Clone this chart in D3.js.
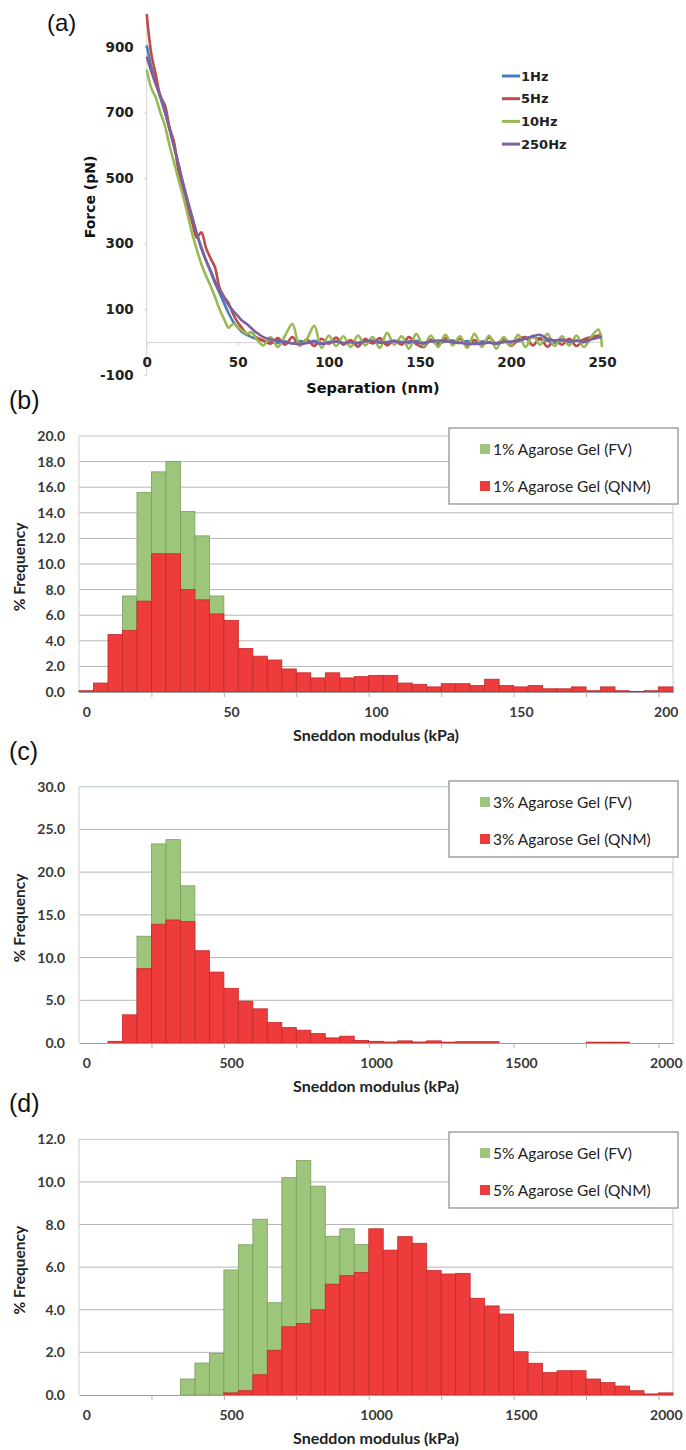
<!DOCTYPE html>
<html>
<head>
<meta charset="utf-8">
<script src="https://cdn.jsdelivr.net/npm/d3@7"></script>
<style>
  body { margin: 0; background: #fff; }
</style>
</head>
<body>
<svg id="fig" width="686" height="1450"></svg>
<script>
// ---------- panel (a): force curves ----------
const sepHead = [0, 2.5, 5, 7.5, 10, 12.5, 15, 17.5, 20, 22.5, 25, 27.5, 30, 32.5, 35, 37.5, 40, 42.5, 45, 47.5, 50, 52.5, 55, 57.5, 60];
const sepTail = [64, 68, 72, 76, 80, 84, 88, 92, 96, 100, 104, 108, 112, 116, 120, 124, 128, 132, 136, 140,
  144, 148, 152, 156, 160, 164, 168, 172, 176, 180, 184, 188, 192, 196, 200, 204, 208, 212, 216, 220,
  224, 228, 232, 236, 240, 244, 248, 250];
const separation = sepHead.concat(sepTail);

const force1Hz = [905, 840, 790, 745, 700, 650, 598, 540, 485, 430, 380, 330, 290, 250, 215, 180, 150, 118, 88, 62, 45, 30, 22, 15, 10,
  4, 0, -3, 2, -4, 3, -2, 4, -3, 0, 3, -4, 2, -2, 5, -3, 2, -4, 3, 0,
  -3, 4, -2, 3, -4, 2, 5, -2, 3, -4, 2, 0, -3, 4, -2, 3, 10, 15, 8, 4,
  -2, 5, 0, 4, 6, 10, 15, 18];
const force5Hz = [1000, 880, 815, 750, 722, 655, 610, 520, 470, 412, 365, 318, 335, 288, 256, 228, 165, 138, 118, 85, 60, 42, 25, 30, 15,
  5, -5, 12, -8, 15, -10, 8, -12, 10, -5, 14, -8, 6, -14, 10, -4, 12, -10, 5, -8,
  15, -6, -15, 8, -10, 12, -4, 10, -12, 6, -8, 14, -6, 10, -12, 8, 15, -10, 12, -14,
  5, -8, 10, -12, 8, 15, 20, 22];
const force10Hz = [830, 775, 745, 700, 660, 600, 548, 495, 445, 388, 330, 282, 238, 203, 172, 138, 100, 70, 44, 56, 45, 35, 25, 30, 12,
  -10, 15, -15, 20, 55, -10, 10, 50, -18, 20, -12, 18, -15, 20, -10, 15, -18, 28, -8, 18,
  -20, 25, -12, 20, -15, 22, -10, 18, -18, 25, -15, 20, -20, 15, -10, 22, -15, 20, -8, 25,
  -12, 18, -10, 20, -15, 15, 38, -15];
const force250Hz = [870, 825, 785, 750, 705, 650, 595, 540, 480, 430, 380, 330, 285, 250, 220, 185, 157, 135, 112, 95, 80, 65, 55, 42, 30,
  15, 8, 4, 0, -4, -6, -3, 0, -5, -2, 2, -3, 0, -4, 2, 4, -2, 0, 3, -2,
  2, 0, -4, 2, 5, 3, 0, -3, -5, -6, -4, -2, -5, 0, 2, 4, 12, 18, 22, 10,
  5, 8, 2, 5, 0, 8, 14, 16];

const curveNames = ["1Hz", "5Hz", "10Hz", "250Hz"];
const curveColors = ["#4a7ebb", "#be4b48", "#98b954", "#7d60a0"];
const forceTicks = [-100, 100, 300, 500, 700, 900];
const sepTicks = [0, 50, 100, 150, 200, 250];

// ---------- panels (b)-(d): histograms ----------
const bins1 = [0, 5, 10, 15, 20, 25, 30, 35, 40, 45, 50, 55, 60, 65, 70, 75, 80, 85, 90, 95, 100,
  105, 110, 115, 120, 125, 130, 135, 140, 145, 150, 155, 160, 165, 170, 175, 180, 185, 190, 195, 200];
const fv1 = [0, 0, 0, 7.5, 15.6, 17.2, 18.0, 14.1, 12.2, 7.5, 0, 0, 0, 0, 0, 0, 0, 0, 0, 0,
  0, 0, 0, 0, 0, 0, 0, 0, 0, 0, 0, 0, 0, 0, 0, 0, 0, 0, 0, 0, 0];
const qnm1 = [0.1, 0.7, 4.5, 4.8, 7.1, 10.8, 10.8, 8.0, 7.2, 6.1, 5.6, 3.4, 2.8, 2.5, 1.8, 1.5, 1.1, 1.5, 1.1, 1.2,
  1.3, 1.3, 0.7, 0.6, 0.4, 0.65, 0.65, 0.5, 1.0, 0.5, 0.4, 0.5, 0.25, 0.25, 0.4, 0.1, 0.4, 0.1, 0.05, 0.1, 0.4];

const bins35 = [0, 50, 100, 150, 200, 250, 300, 350, 400, 450, 500, 550, 600, 650, 700, 750, 800, 850, 900, 950, 1000,
  1050, 1100, 1150, 1200, 1250, 1300, 1350, 1400, 1450, 1500, 1550, 1600, 1650, 1700, 1750, 1800, 1850, 1900, 1950, 2000];
const fv3 = [0, 0, 0, 0, 12.5, 23.3, 23.8, 18.4, 0, 0, 0, 0, 0, 0, 0, 0, 0, 0, 0, 0,
  0, 0, 0, 0, 0, 0, 0, 0, 0, 0, 0, 0, 0, 0, 0, 0, 0, 0, 0, 0, 0];
const qnm3 = [0, 0, 0.2, 3.3, 8.7, 13.9, 14.4, 14.2, 10.8, 8.3, 6.4, 4.9, 4.0, 2.4, 1.8, 1.5, 1.1, 0.6, 0.8, 0.3,
  0.2, 0.12, 0.25, 0.12, 0.25, 0.1, 0.15, 0.15, 0.15, 0, 0, 0, 0, 0, 0, 0.1, 0.1, 0.1, 0, 0, 0];
const fv5 = [0, 0, 0, 0, 0, 0, 0, 0.75, 1.5, 1.95, 5.87, 7.05, 8.25, 4.33, 10.2, 11.0, 9.8, 7.45, 7.8, 7.07,
  0, 0, 0, 0, 0, 0, 0, 0, 0, 0, 0, 0, 0, 0, 0, 0, 0, 0, 0, 0, 0];
const qnm5 = [0, 0, 0, 0, 0, 0, 0, 0, 0, 0, 0.1, 0.2, 0.95, 2.1, 3.2, 3.35, 4.0, 5.2, 5.6, 5.75,
  7.8, 6.8, 7.43, 7.12, 5.84, 5.68, 5.71, 4.54, 4.18, 3.8, 2.03, 1.49, 1.05, 1.14, 1.14, 0.75, 0.58, 0.42, 0.2, 0.05, 0.1];

const xLabels1 = [0, 50, 100, 150, 200];
const xLabels35 = [0, 500, 1000, 1500, 2000];
const yTicks1 = [0, 2, 4, 6, 8, 10, 12, 14, 16, 18, 20];
const yTicks3 = [0, 5, 10, 15, 20, 25, 30];
const yTicks5 = [0, 2, 4, 6, 8, 10, 12];

const svg = d3.select("#fig");
const verdana = "'DejaVu Sans', Verdana, sans-serif";
const calibri = "Lato, 'Open Sans', sans-serif";

// ---------- draw (a) ----------
function drawForcePanel() {
  const x = d3.scaleLinear().domain([0, 250]).range([146.7, 602]);
  const y = d3.scaleLinear().domain([-100, 1000]).range([374.9, 14]);
  const g = svg.append("g");

  const yAxis = g.append("g").attr("transform", "translate(146.7,0)")
    .call(d3.axisLeft(y).tickValues(forceTicks).tickFormat(d => String(d)).tickSize(3).tickPadding(10));
  yAxis.select(".domain").attr("stroke", "#d4d4d4").attr("d", `M0,${y(1000)}V${y(-100)}`);
  yAxis.selectAll(".tick line").attr("stroke", "#d4d4d4");
  yAxis.selectAll("text").attr("font-family", verdana).attr("font-weight", "bold")
    .attr("font-size", 13.5).attr("fill", "#222");

  const xAxis = g.append("g").attr("transform", `translate(0,${y(0)})`)
    .call(d3.axisBottom(x).tickValues(sepTicks).tickFormat(d => String(d)).tickSize(4).tickPadding(11));
  xAxis.select(".domain").attr("stroke", "#d4d4d4");
  xAxis.selectAll(".tick line").attr("stroke", "#d4d4d4");
  xAxis.selectAll("text").attr("font-family", verdana).attr("font-weight", "bold")
    .attr("font-size", 13.5).attr("fill", "#222");

  const series = [force1Hz, force5Hz, force10Hz, force250Hz];
  const line = d3.line().x((d, i) => x(separation[i])).y(d => y(d)).curve(d3.curveCatmullRom.alpha(0.5));
  g.selectAll(".curve").data(series).join("path")
    .attr("class", "curve")
    .attr("d", d => line(d))
    .attr("fill", "none")
    .attr("stroke", (d, i) => curveColors[i])
    .attr("stroke-width", 2.6)
    .attr("stroke-linejoin", "round");

  const leg = g.selectAll(".leg").data(curveNames).join("g")
    .attr("transform", (d, i) => `translate(502,${76 + i * 22.7})`);
  leg.append("line").attr("x1", 0).attr("x2", 18).attr("stroke", (d, i) => curveColors[i]).attr("stroke-width", 3);
  leg.append("text").attr("x", 19).attr("dy", "0.35em").text(d => d)
    .attr("font-family", verdana).attr("font-weight", "bold").attr("font-size", 13).attr("fill", "#222");

  g.append("text").attr("transform", "translate(90,197) rotate(-90)").attr("text-anchor", "middle")
    .attr("dy", "0.35em").text("Force (pN)")
    .attr("font-family", verdana).attr("font-weight", "bold").attr("font-size", 14).attr("fill", "#111");
  g.append("text").attr("x", 373).attr("y", 393).attr("text-anchor", "middle").text("Separation (nm)")
    .attr("font-family", verdana).attr("font-weight", "bold").attr("font-size", 14.5).attr("fill", "#111");
}

// ---------- draw (b)-(d) ----------
function drawHistogram(cfg) {
  const step = cfg.bins[1] - cfg.bins[0];
  const n = cfg.bins.length;
  const left = 79, right = 673;
  const x = d3.scaleLinear().domain([cfg.bins[0] - step / 2, cfg.bins[n - 1] + step / 2]).range([left, right]);
  const y = d3.scaleLinear().domain([0, cfg.yTicks[cfg.yTicks.length - 1]]).range([cfg.bottom, cfg.top]);
  const g = svg.append("g");

  // horizontal gridlines
  g.selectAll(".grid").data(cfg.yTicks.filter(t => t > 0)).join("line")
    .attr("x1", left).attr("x2", right)
    .attr("y1", d => y(d)).attr("y2", d => y(d))
    .attr("stroke", (d, i, a) => i === a.length - 1 ? "#b9c6d8" : "#b5b5b5").attr("stroke-width", 1);
  // plot border left / right
  g.append("line").attr("x1", left).attr("x2", left).attr("y1", cfg.top).attr("y2", cfg.bottom).attr("stroke", "#cfcfcf");
  g.append("line").attr("x1", right).attr("x2", right).attr("y1", cfg.top).attr("y2", cfg.bottom).attr("stroke", "#c3cddc");

  const bw = x(step) - x(0);
  const fvBars = cfg.bins.map((b, i) => ({ b: b, v: cfg.fv[i] })).filter(d => d.v > 0);
  const qnmBars = cfg.bins.map((b, i) => ({ b: b, v: cfg.qnm[i] })).filter(d => d.v > 0);

  g.selectAll(".fv").data(fvBars).join("rect")
    .attr("x", d => x(d.b - step / 2)).attr("width", bw)
    .attr("y", d => y(d.v)).attr("height", d => cfg.bottom - y(d.v))
    .attr("fill", "#9dc57b").attr("stroke", "#7a9f5c").attr("stroke-width", 0.8);
  g.selectAll(".qnm").data(qnmBars).join("rect")
    .attr("x", d => x(d.b - step / 2)).attr("width", bw)
    .attr("y", d => y(d.v)).attr("height", d => cfg.bottom - y(d.v))
    .attr("fill", "#ee3b3c").attr("stroke", "#c32a2c").attr("stroke-width", 0.8);

  // y axis labels
  const yAxis = g.append("g").attr("transform", `translate(${left},0)`)
    .call(d3.axisLeft(y).tickValues(cfg.yTicks).tickFormat(d3.format(".1f")).tickSize(0).tickPadding(14));
  yAxis.select(".domain").remove();
  yAxis.selectAll("text").attr("font-family", calibri).attr("font-weight", "bold")
    .attr("font-size", 14).attr("fill", "#3a3a3a");

  // bottom axis line and tick marks at every fifth bin boundary
  const boundaries = cfg.bins.filter((b, i) => i > 0 && i % 5 === 0).map(b => b - step / 2);
  const tickAxis = g.append("g").attr("transform", `translate(0,${cfg.bottom})`)
    .call(d3.axisBottom(x).tickValues(boundaries).tickFormat("").tickSize(5).tickSizeOuter(0));
  tickAxis.select(".domain").attr("stroke", "#9d9d9d");
  tickAxis.selectAll(".tick line").attr("stroke", "#b0b0b0");

  const labAxis = g.append("g").attr("transform", `translate(0,${cfg.bottom})`)
    .call(d3.axisBottom(x).tickValues(cfg.xLabels).tickFormat(d => String(d)).tickSize(0).tickPadding(15));
  labAxis.select(".domain").remove();
  labAxis.selectAll("text").attr("font-family", calibri).attr("font-weight", "bold")
    .attr("font-size", 14).attr("fill", "#3a3a3a");

  // axis titles
  g.append("text").attr("transform", `translate(20,${(cfg.top + cfg.bottom) / 2 + 3}) rotate(-90)`)
    .attr("text-anchor", "middle").attr("dy", "0.35em").text("% Frequency")
    .attr("font-family", calibri).attr("font-weight", "bold").attr("font-size", 15.5).attr("fill", "#222");
  g.append("text").attr("x", 376).attr("y", cfg.bottom + 49).attr("text-anchor", "middle")
    .text("Sneddon modulus (kPa)")
    .attr("font-family", calibri).attr("font-weight", "bold").attr("font-size", 16).attr("fill", "#222");

  // legend
  const lg = g.append("g").attr("transform", `translate(449,${cfg.legendTop})`);
  lg.append("rect").attr("width", 229).attr("height", 76).attr("fill", "#fff")
    .attr("stroke", "#8a8a8a").attr("stroke-width", 1.2);
  const items = [[cfg.name + " (FV)", "#9dc57b"], [cfg.name + " (QNM)", "#ee3b3c"]];
  const it = lg.selectAll(".item").data(items).join("g")
    .attr("transform", (d, i) => `translate(31,${21 + i * 37})`);
  it.append("rect").attr("y", -5).attr("width", 10).attr("height", 10).attr("fill", d => d[1]);
  it.append("text").attr("x", 13).attr("dy", "0.36em").text(d => d[0])
    .attr("font-family", calibri).attr("font-size", 15.5).attr("fill", "#222");

  // panel letter
  svg.append("text").attr("x", 9).attr("y", cfg.top - 27).text(cfg.letter)
    .attr("font-family", "'Liberation Sans', Arial, sans-serif").attr("font-size", 25).attr("fill", "#111");
}

drawForcePanel();
svg.append("text").attr("x", 47).attr("y", 31).text("(a)")
  .attr("font-family", "'Liberation Sans', Arial, sans-serif").attr("font-size", 24).attr("fill", "#111");

drawHistogram({ letter: "(b)", bins: bins1, fv: fv1, qnm: qnm1, yTicks: yTicks1, xLabels: xLabels1,
  top: 436, bottom: 692, legendTop: 428, name: "1% Agarose Gel" });
drawHistogram({ letter: "(c)", bins: bins35, fv: fv3, qnm: qnm3, yTicks: yTicks3, xLabels: xLabels35,
  top: 786.7, bottom: 1043, legendTop: 781, name: "3% Agarose Gel" });
drawHistogram({ letter: "(d)", bins: bins35, fv: fv5, qnm: qnm5, yTicks: yTicks5, xLabels: xLabels35,
  top: 1139.3, bottom: 1395, legendTop: 1132, name: "5% Agarose Gel" });
</script>
</body>
</html>
